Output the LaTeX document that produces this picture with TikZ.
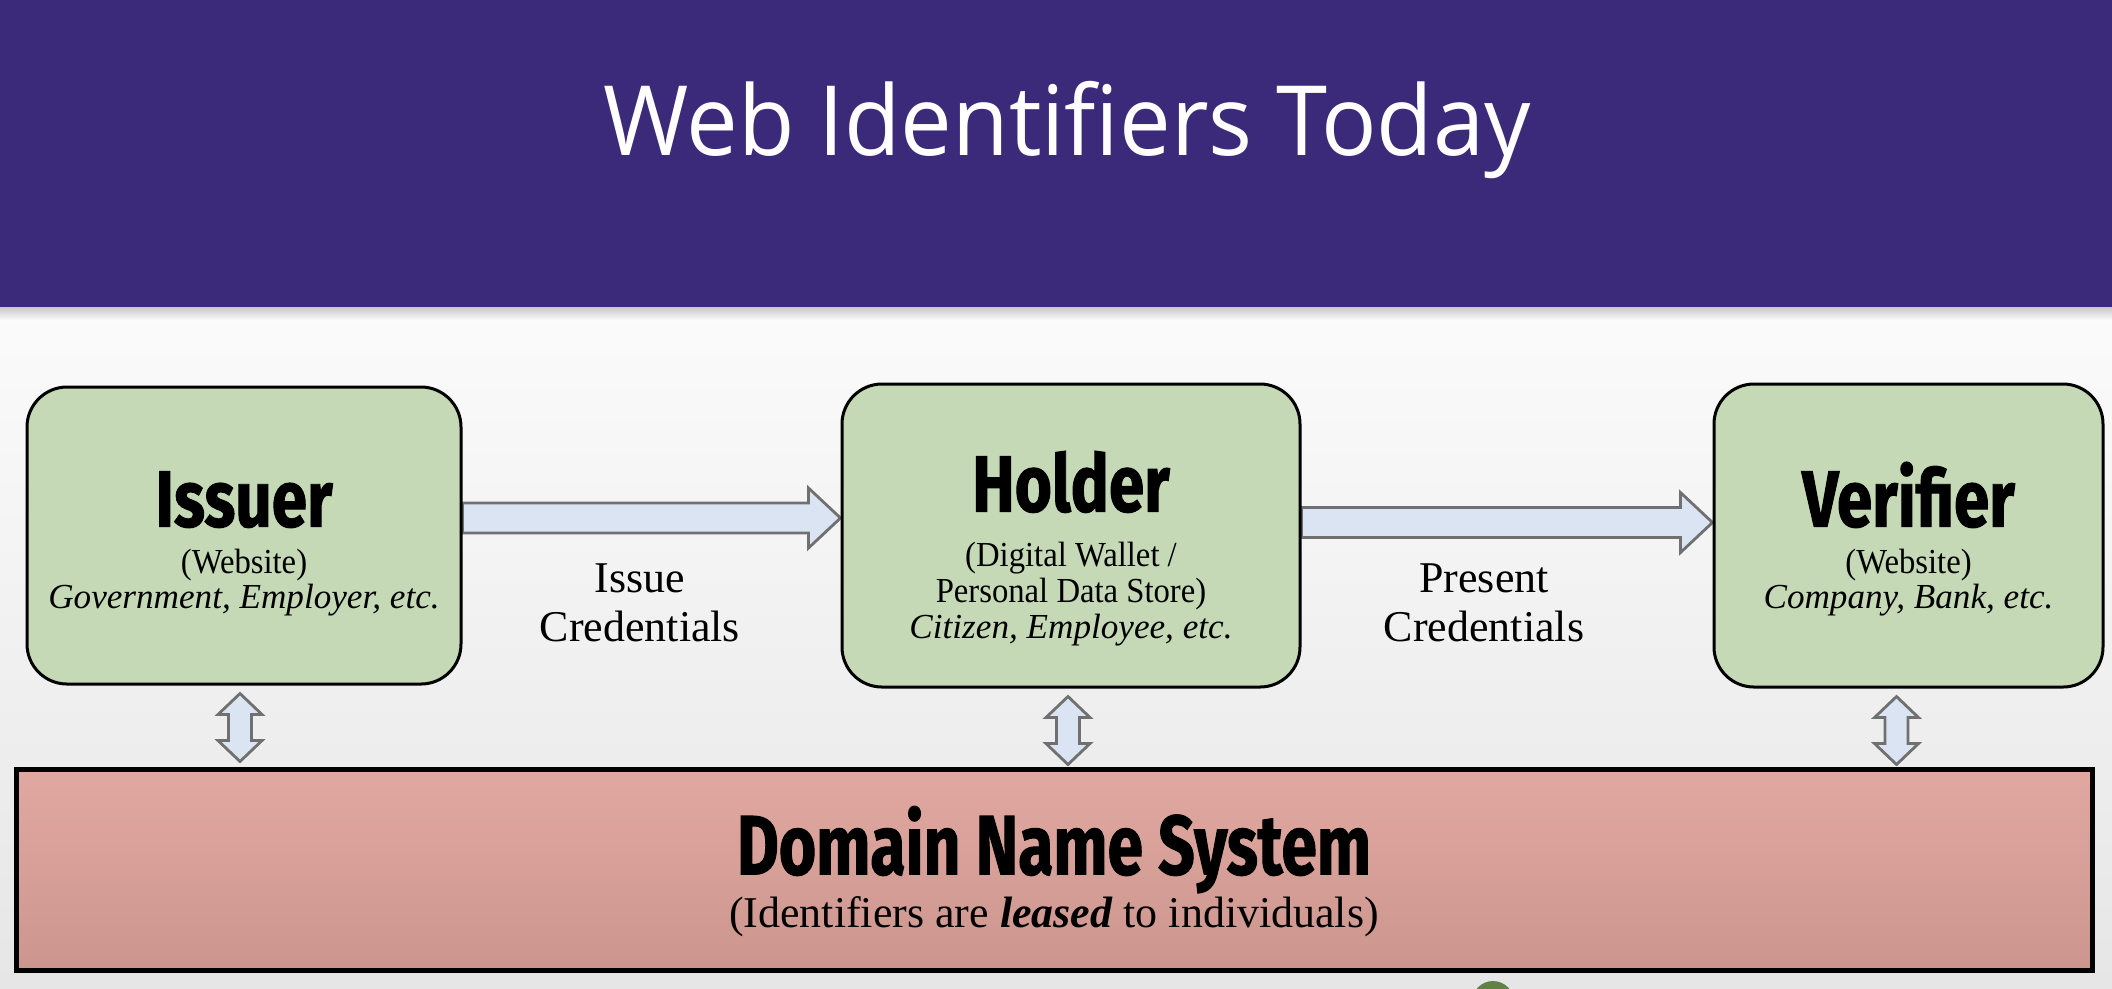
\documentclass[tikz,border=0pt]{standalone}
\usepackage{fontspec}
\setmainfont{Liberation Serif}
\newfontfamily\subfont[UprightFeatures={FakeStretch=0.93}]{Liberation Serif}
\newfontfamily\titlefont[FakeStretch=0.95]{Open Sans}
\newfontfamily\headfont[FakeStretch=0.8, FakeBold=1.2]{Fira Sans}
\newfontfamily\dnsfont[FakeStretch=0.76, FakeBold=1.2]{Fira Sans}
\usetikzlibrary{positioning,calc,backgrounds}

\definecolor{bannerpurple}{RGB}{59,41,121}
\definecolor{actorgreen}{RGB}{197,217,182}
\definecolor{arrblue}{RGB}{218,228,242}
\definecolor{arrgray}{RGB}{112,112,112}
\definecolor{dnstop}{RGB}{224,168,160}
\definecolor{dnsbot}{RGB}{204,150,142}
\definecolor{bgtop}{RGB}{251,251,251}
\definecolor{bgbot}{RGB}{230,230,230}
\definecolor{dotgreen}{RGB}{96,130,70}

\newcommand\headline[2][20.5pt]{{\headfont\bfseries\fontsize{22.7}{24}\selectfont\rule{0pt}{#1}#2}}

\begin{document}
\begin{tikzpicture}[
  x=0.1mm, y=-0.1mm,
  node distance=37.8mm,
  actor/.style={draw=black, fill=actorgreen, rounded corners=4mm, line width=0.3mm,
                align=center, font=\subfont\fontsize{10}{10.2}\selectfont, inner sep=0pt},
  fatarr/.style={draw=arrgray, fill=arrblue, line width=0.28mm, line join=miter},
  lbl/.style={align=center, font=\fontsize{12.5}{13.8}\selectfont}
]
\useasboundingbox (0,0) rectangle (2112,988);
\begin{scope}[on background layer]
  \shade[top color=bgtop, bottom color=bgbot] (0,307) rectangle (2112,988);
  \shade[top color=black!22, bottom color=bgtop] (0,307) rectangle (2112,320);
  \fill[bannerpurple] (0,0) rectangle (2112,307);
\end{scope}

\node[anchor=base, text=white, font=\titlefont\fontsize{27.6}{30}\selectfont] (title) at (1067,155) {Web Identifiers Today};

% the three roles
\node[actor, minimum width=43.4mm, minimum height=29.7mm] (issuer) at (244,535.5)
  {\headline{Issuer}\\[3pt] (Website)\\ \textit{Government, Employer, etc.}};
\node[actor, minimum width=45.8mm, minimum height=30.3mm, right=of issuer] (holder)
  {\headline[24.6pt]{Holder}\\[5.5pt] (Digital Wallet /\\ Personal Data Store)\\ \textit{Citizen, Employee, etc.}};
\node[actor, minimum width=38.9mm, minimum height=30.3mm, right=41.1mm of holder] (verifier)
  {\headline{Verifier}\\[3pt] (Website)\\ \textit{Company, Bank, etc.}};

\node[draw=black, line width=0.5mm, top color=dnstop, bottom color=dnsbot,
      minimum width=207.6mm, minimum height=20.1mm, align=center, inner sep=0pt] (dns) at (1054,869.5)
  {{\dnsfont\bfseries\fontsize{24}{26}\selectfont\rule{0pt}{20.6pt}Domain Name System}\\[0pt]
   {\fontsize{12.5}{13.8}\selectfont (Identifiers are \textbf{\textit{leased}} to individuals)}};

% block arrows
\begin{scope}[on background layer]
\draw[fatarr] ($(issuer.east)+(0,-32.5)$) -- ($(holder.west)+(-32,-32.5)$) -- ($(holder.west)+(-32,-47.5)$)
  -- ($(holder.west)+(0,-17.5)$) -- ($(holder.west)+(-32,12.5)$) -- ($(holder.west)+(-32,-2.5)$)
  -- ($(issuer.east)+(0,-2.5)$) -- cycle;
\draw[fatarr] ($(holder.east)+(0,-28)$) -- ($(verifier.west)+(-32,-28)$) -- ($(verifier.west)+(-32,-43)$)
  -- ($(verifier.west)+(0,-13)$) -- ($(verifier.west)+(-32,17)$) -- ($(verifier.west)+(-32,2)$)
  -- ($(holder.east)+(0,2)$) -- cycle;
\end{scope}
\foreach \n/\dx in {issuer/-4, holder/-3, verifier/-12}
  \draw[fatarr] ($(\n.south)+(\dx,8)$) -- ++(22,21) -- ++(-10.5,0) -- ++(0,26) -- ++(10.5,0)
    -- ++(-22,21) -- ++(-22,-21) -- ++(10.5,0) -- ++(0,-26) -- ++(-10.5,0) -- cycle;

\node[lbl] (issuelbl) at (640,603) {Issue\\Credentials};
\node[lbl] (presentlbl) at (1484,603) {Present\\Credentials};

\begin{scope}
  \clip (0,0) rectangle (2112,988);
  \fill[dotgreen] (1493,1002) circle (21);
\end{scope}
\end{tikzpicture}
\end{document}
